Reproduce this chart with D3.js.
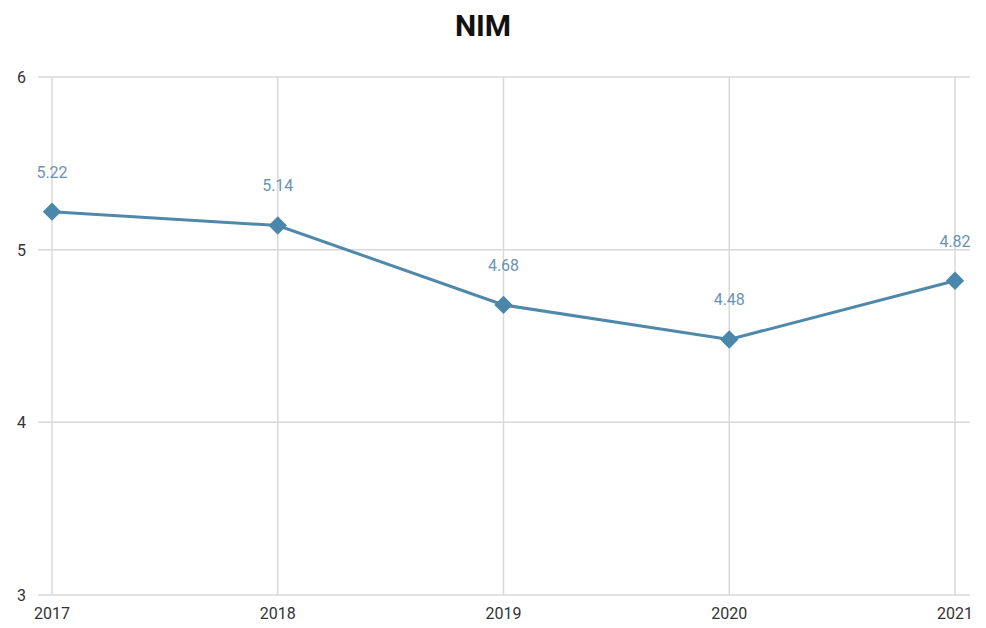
<!DOCTYPE html>
<html>
<head>
<meta charset="utf-8">
<script src="https://cdn.jsdelivr.net/npm/d3@7"></script>
<style>
  body { margin: 0; background: #fff; }
  text { font-family: Roboto, "Liberation Sans", Arial, sans-serif; }
</style>
</head>
<body>
<script>
// NIM line chart
var years = ["2017", "2018", "2019", "2020", "2021"];
var nim = [5.22, 5.14, 4.68, 4.48, 4.82];
var yTicks = [3, 4, 5, 6];

var width = 986, height = 628;
var x0 = 52, x1 = 955, gridRight = 970;  // plot area
var yTop = 77, yBot = 595;

var svg = d3.select("body").append("svg")
    .attr("width", width)
    .attr("height", height);

var x = d3.scalePoint().domain(years).range([x0, x1]);
var y = d3.scaleLinear().domain([3, 6]).range([yBot, yTop]);

// 标题
svg.append("text")
    .attr("x", 483)
    .attr("y", 36)
    .attr("text-anchor", "middle")
    .attr("font-size", 30)
    .attr("font-weight", "bold")
    .attr("fill", "#111")
    .text("NIM");

// 网格线
svg.append("g").selectAll("line")
    .data(yTicks)
    .enter().append("line")
    .attr("x1", 38).attr("x2", gridRight)
    .attr("y1", d => y(d)).attr("y2", d => y(d))
    .attr("stroke", "#d9d9d9")
    .attr("stroke-width", 1.5);

svg.append("g").selectAll("line")
    .data(years)
    .enter().append("line")
    .attr("x1", d => x(d)).attr("x2", d => x(d))
    .attr("y1", yTop).attr("y2", yBot)
    .attr("stroke", "#d9d9d9")
    .attr("stroke-width", 1.5);

// y轴标签
svg.append("g").selectAll("text")
    .data(yTicks)
    .enter().append("text")
    .attr("x", 26)
    .attr("y", d => y(d) + 6)
    .attr("text-anchor", "end")
    .attr("font-size", 16)
    .attr("fill", "#333")
    .text(d => d);

// x轴标签
svg.append("g").selectAll("text")
    .data(years)
    .enter().append("text")
    .attr("x", d => x(d))
    .attr("y", 619)
    .attr("text-anchor", "middle")
    .attr("font-size", 16)
    .attr("fill", "#333")
    .text(d => d);

var pts = years.map((d, i) => ({ year: d, v: nim[i] }));

// 折线
svg.append("path")
    .datum(pts)
    .attr("fill", "none")
    .attr("stroke", "#5088aa")
    .attr("stroke-width", 3)
    .attr("d", d3.line().x(d => x(d.year)).y(d => y(d.v)));

// 菱形标记
svg.append("g").selectAll("path")
    .data(pts)
    .enter().append("path")
    .attr("transform", d => "translate(" + x(d.year) + "," + y(d.v) + ") rotate(45)")
    .attr("d", "M-6.5,-6.5H6.5V6.5H-6.5Z")
    .attr("fill", "#4a87aa");

// 数值标签
svg.append("g").selectAll("text")
    .data(pts)
    .enter().append("text")
    .attr("x", d => x(d.year))
    .attr("y", d => y(d.v) - 34)
    .attr("text-anchor", "middle")
    .attr("font-size", 16)
    .attr("fill", "#6a93b3")
    .text(d => d.v.toFixed(2));
</script>
</body>
</html>
